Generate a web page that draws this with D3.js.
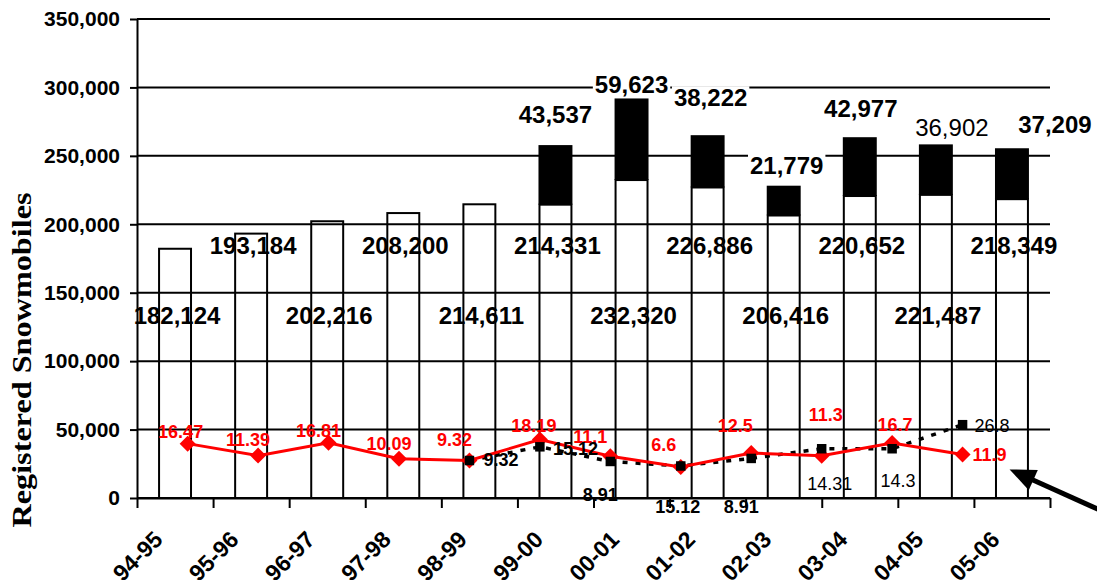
<!DOCTYPE html>
<html><head><meta charset="utf-8">
<script src="https://cdn.jsdelivr.net/npm/d3@7"></script>
<style>body{margin:0;background:#fff}</style>
</head><body>
<svg id="c" width="1097" height="588"></svg>
<script>
// ---- data ----
const seasons = ["94-95","95-96","96-97","97-98","98-99","99-00","00-01","01-02","02-03","03-04","04-05","05-06"];
const baseRegistrations = [182124,193184,202216,208200,214611,214331,232320,226886,206416,220652,221487,218349];
const addedRegistrations = [0,0,0,0,0,43537,59623,38222,21779,42977,36902,37209];
const redRate = [16.47,11.39,16.81,10.09,9.32,18.19,11.1,6.6,12.5,11.3,16.7,11.9];
const redRateLabels = ["16.47","11.39","16.81","10.09","9.32","18.19","11.1","6.6","12.5","11.3","16.7","11.9"];
const blackSeasons = ["98-99","99-00","00-01","01-02","02-03","03-04","04-05","05-06"];
const blackRate = [9.32,15.12,8.91,7.0,10.2,14.31,14.3,24.5];
const blackRateLabels = ["9.32","15.12","8.91","15.12","8.91","14.31","14.3","26.8"];
const yTicks = [0,50000,100000,150000,200000,250000,300000,350000];
const yTitle = "Registered Snowmobiles";

// ---- layout (label placement) ----
const topLabelOffsets = [[0,-22],[0,-5],[3,-29],[3,-12],[1,-20],[16,-8],[43,-15]];
const topLabelBold = [true,true,true,true,true,false,true];
const redLabelOffsets = [[-7,-6,"middle"],[-10,-10,"middle"],[-10,-6,"middle"],[-10,-9,"middle"],[-15,-15,"middle"],[-6,-8,"middle"],[-20,-13,"middle"],[-17,-16,"middle"],[-16,-21,"middle"],[4,-35,"middle"],[3,-12,"middle"],[10,7,"start"]];
const blackLabelOffsets = [[14,5,"start",true],[13,8,"start",true],[-10,40,"middle",true],[-3,47,"middle",true],[-10,55,"middle",true],[8,41,"middle",false],[6,38,"middle",false],[12,7,"start",false]];

const svg = d3.select("#c");
const L=137, R=1050, T=19, B=498;
const FONT = "'Liberation Sans', Arial, sans-serif";

const x = d3.scaleBand().domain(seasons).range([L,R]).paddingInner(0.58).paddingOuter(0.29);
const y = d3.scaleLinear().domain([0,350000]).range([B,T]);
const x2 = d3.scalePoint().domain(seasons).range([152.4,997.8]).padding(0.5);
const y2 = d3.scaleLinear().domain([0,20]).range([482.5,435.3]);
const cx = s => x(s) + x.bandwidth()/2;
const fmt = d3.format(",");

// bottom (base) labels, drawn first so lines cross them
svg.append("g").selectAll("text").data(seasons).join("text")
  .attr("x", d => cx(d) + 2)
  .attr("y", (d,i) => i % 2 ? 254 : 324)
  .attr("text-anchor","middle")
  .attr("font-family",FONT).attr("font-weight","bold").attr("font-size",24)
  .text((d,i) => fmt(baseRegistrations[i]));

// gridlines
svg.append("g").selectAll("line").data(yTicks).join("line")
  .attr("x1",L).attr("x2",R).attr("y1",d=>y(d)).attr("y2",d=>y(d))
  .attr("stroke","#000").attr("stroke-width",2);

// bars
const bars = svg.append("g");
bars.selectAll("rect.base").data(seasons).join("rect").attr("class","base")
  .attr("x", d => x(d)).attr("width", x.bandwidth())
  .attr("y", (d,i) => y(baseRegistrations[i]))
  .attr("height", (d,i) => y(0) - y(baseRegistrations[i]))
  .attr("fill","none").attr("stroke","#000").attr("stroke-width",2);
const stacked = seasons.map((s,i)=>({s, b:baseRegistrations[i], a:addedRegistrations[i]})).filter(d=>d.a>0);
bars.selectAll("rect.add").data(stacked).join("rect").attr("class","add")
  .attr("x", d => x(d.s) - 1).attr("width", x.bandwidth() + 2)
  .attr("y", d => y(d.b + d.a))
  .attr("height", d => y(d.b) - y(d.b + d.a))
  .attr("fill","#000");

// y axis
const ya = svg.append("g").attr("transform",`translate(${L},0)`)
  .call(d3.axisLeft(y).tickValues(yTicks).tickSize(7).tickSizeOuter(0).tickPadding(10).tickFormat(fmt));
ya.selectAll("path,line").attr("stroke","#000").attr("stroke-width",2);
ya.selectAll("text").attr("font-family",FONT).attr("font-weight","bold").attr("font-size",21).attr("fill","#000");

// x axis (ticks at category boundaries)
const xb = d3.scaleLinear().domain([0,seasons.length]).range([L,R]);
const xa = svg.append("g").attr("transform",`translate(0,${B})`)
  .call(d3.axisBottom(xb).tickValues(d3.range(seasons.length+1)).tickSize(10).tickSizeOuter(0).tickFormat(""));
xa.selectAll("path,line").attr("stroke","#000").attr("stroke-width",2);

// category labels
svg.append("g").selectAll("text").data(seasons).join("text")
  .attr("transform", d => `translate(${cx(d)-11},541) rotate(-45)`)
  .attr("text-anchor","end")
  .attr("font-family",FONT).attr("font-weight","bold").attr("font-size",23)
  .text(d=>d);

// top (added) labels with white background
const tl = svg.append("g").selectAll("g").data(stacked).join("g");
tl.each(function(d,i){
  const g = d3.select(this);
  const o = topLabelOffsets[i];
  const t = g.append("text")
    .attr("x", cx(d.s) + o[0]).attr("y", y(d.b + d.a) + o[1])
    .attr("text-anchor","middle")
    .attr("font-family",FONT).attr("font-weight", topLabelBold[i] ? "bold" : "normal").attr("font-size",24)
    .text(fmt(d.a));
  const bb = t.node().getBBox();
  g.insert("rect","text").attr("x",bb.x-2).attr("y",bb.y+2).attr("width",bb.width+4).attr("height",bb.height-3).attr("fill","#fff");
});

// black dashed series
const bLine = d3.line().x((d,i)=>x2(blackSeasons[i])).y(d=>y2(d));
svg.append("path").datum(blackRate).attr("d",bLine)
  .attr("fill","none").attr("stroke","#000").attr("stroke-width",3.5).attr("stroke-dasharray","5,8");

// red series
const rLine = d3.line().x((d,i)=>x2(seasons[i])).y(d=>y2(d));
svg.append("path").datum(redRate).attr("d",rLine)
  .attr("fill","none").attr("stroke","#ff0000").attr("stroke-width",3);
svg.append("g").selectAll("path").data(redRate).join("path")
  .attr("transform",(d,i)=>`translate(${x2(seasons[i])},${y2(d)}) rotate(45)`)
  .attr("d", d3.symbol(d3.symbolSquare, 128)())
  .attr("fill","#ff0000");
svg.append("g").selectAll("path").data(blackRate).join("path")
  .attr("transform",(d,i)=>`translate(${x2(blackSeasons[i])},${y2(d)})`)
  .attr("d", d3.symbol(d3.symbolSquare, 90)())
  .attr("fill","#000");

// red labels
svg.append("g").selectAll("text").data(redRate).join("text")
  .attr("x",(d,i)=>x2(seasons[i]) + redLabelOffsets[i][0])
  .attr("y",(d,i)=>y2(d) + redLabelOffsets[i][1])
  .attr("text-anchor",(d,i)=>redLabelOffsets[i][2])
  .attr("font-family",FONT).attr("font-weight","bold").attr("font-size",18).attr("fill","#ff0000")
  .text((d,i)=>redRateLabels[i]);

// black labels
svg.append("g").selectAll("text").data(blackRate).join("text")
  .attr("x",(d,i)=>x2(blackSeasons[i]) + blackLabelOffsets[i][0])
  .attr("y",(d,i)=>y2(d) + blackLabelOffsets[i][1])
  .attr("text-anchor",(d,i)=>blackLabelOffsets[i][2])
  .attr("font-family",FONT).attr("font-weight",(d,i)=>blackLabelOffsets[i][3]?"bold":"normal").attr("font-size",18).attr("fill","#000")
  .text((d,i)=>blackRateLabels[i]);

// arrow annotation pointing at the last red point
const last = seasons[seasons.length-1];
const tip = [x2(last) + 47, y2(redRate[redRate.length-1]) + 15];
const tail = [tip[0] + 92, tip[1] + 41.5];
const len = Math.hypot(tail[0]-tip[0], tail[1]-tip[1]);
const u = [(tail[0]-tip[0])/len, (tail[1]-tip[1])/len];
const pn = [-u[1], u[0]];
const bc = [tip[0] + 26*u[0], tip[1] + 26*u[1]];
svg.append("line").attr("x1",bc[0]-4*u[0]).attr("y1",bc[1]-4*u[1]).attr("x2",tail[0]).attr("y2",tail[1])
  .attr("stroke","#000").attr("stroke-width",5);
svg.append("path").attr("d", d3.line()([tip, [bc[0]+11*pn[0], bc[1]+11*pn[1]], [bc[0]-11*pn[0], bc[1]-11*pn[1]]]) + "Z")
  .attr("fill","#000");

// y axis title
svg.append("text")
  .attr("transform","translate(31,360) rotate(-90)")
  .attr("text-anchor","middle")
  .attr("font-family","'Liberation Serif', 'Times New Roman', serif").attr("font-weight","bold").attr("font-size",28)
  .attr("textLength",335).attr("lengthAdjust","spacingAndGlyphs")
  .text(yTitle);
</script>
</body></html>
